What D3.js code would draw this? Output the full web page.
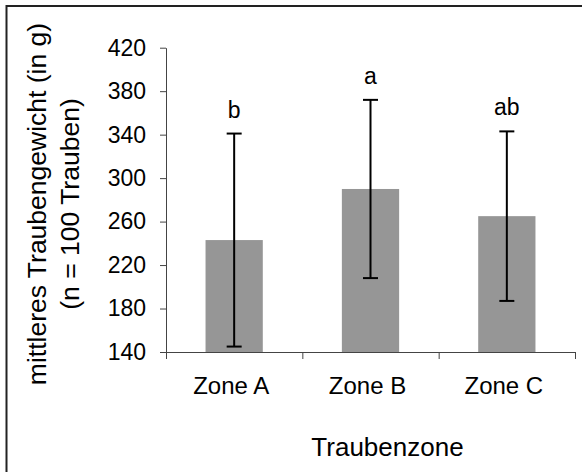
<!DOCTYPE html>
<html>
<head>
<meta charset="utf-8">
<script src="https://cdn.jsdelivr.net/npm/d3@7/dist/d3.min.js"></script>
<style>
  html, body { margin: 0; padding: 0; background: #fff; }
  svg { display: block; font-family: "Liberation Sans", Arial, sans-serif; }
</style>
</head>
<body>
<svg id="chart" width="582" height="472"></svg>
<script>
// Mean bunch weight per grape zone, with standard deviation and significance letters
const zones = ["Zone A", "Zone B", "Zone C"];
const meanWeight = [243, 290, 265];
const sdWeight = [98, 82, 78];
const sigLetters = ["b", "a", "ab"];
const yTicks = [140, 180, 220, 260, 300, 340, 380, 420];

const svg = d3.select("#chart");

// Outer chart frame (runs off the right and bottom edges)
svg.append("rect")
  .attr("x", 6.5).attr("y", 6)
  .attr("width", 600).attr("height", 500)
  .attr("fill", "none")
  .attr("stroke", "#222")
  .attr("stroke-width", 2);

const plot = { left: 166, right: 575, top: 47.7, bottom: 352 };

const y = d3.scaleLinear().domain([140, 420]).range([plot.bottom, plot.top]);
const x = d3.scaleBand().domain(zones)
  .range([plot.left, plot.right])
  .paddingInner(0.58).paddingOuter(0.29);
const xEdge = d3.scaleLinear().domain([0, zones.length]).range([plot.left, plot.right]);

// Bars
svg.append("g").selectAll("rect")
  .data(zones)
  .join("rect")
  .attr("x", d => x(d))
  .attr("width", x.bandwidth())
  .attr("y", (d, i) => y(meanWeight[i]))
  .attr("height", (d, i) => y(140) - y(meanWeight[i]))
  .attr("fill", "#969696");

// Y axis
const yAxis = svg.append("g")
  .attr("transform", `translate(${plot.left},0)`)
  .call(d3.axisLeft(y).tickValues(yTicks).tickSize(6).tickSizeOuter(0).tickPadding(14));
yAxis.select(".domain").attr("stroke", "#444");
yAxis.selectAll(".tick line").attr("stroke", "#444");
yAxis.selectAll(".tick text")
  .attr("font-size", 23).attr("fill", "#000")
  .attr("font-family", "Liberation Sans, Arial, sans-serif");

// X axis: line with ticks on the category boundaries
const xAxis = svg.append("g")
  .attr("transform", `translate(0,${plot.bottom})`)
  .call(d3.axisBottom(xEdge).tickValues(d3.range(zones.length + 1)).tickSize(7).tickSizeOuter(0).tickFormat(""));
xAxis.select(".domain").attr("stroke", "#444");
xAxis.selectAll(".tick line").attr("stroke", "#444");

// Category labels
const xLabels = svg.append("g")
  .attr("transform", `translate(0,${plot.bottom})`)
  .call(d3.axisBottom(x).tickSize(0).tickPadding(0));
xLabels.select(".domain").remove();
xLabels.selectAll(".tick text")
  .attr("y", 42).attr("dy", 0).attr("dx", -3)
  .attr("font-size", 24).attr("fill", "#000")
  .attr("font-family", "Liberation Sans, Arial, sans-serif");

// Error bars (mean ± SD)
const err = svg.append("g").attr("stroke", "#000").attr("stroke-width", 2);
const cap = 7.5;
zones.forEach((z, i) => {
  const cx = x(z) + x.bandwidth() / 2;
  const hi = y(meanWeight[i] + sdWeight[i]);
  const lo = y(meanWeight[i] - sdWeight[i]);
  err.append("line").attr("x1", cx).attr("x2", cx).attr("y1", hi).attr("y2", lo);
  err.append("line").attr("x1", cx - cap).attr("x2", cx + cap).attr("y1", hi).attr("y2", hi);
  err.append("line").attr("x1", cx - cap).attr("x2", cx + cap).attr("y1", lo).attr("y2", lo);
});

// Significance letters above the error bars
svg.append("g").selectAll("text")
  .data(zones)
  .join("text")
  .attr("x", d => x(d) + x.bandwidth() / 2)
  .attr("y", (d, i) => y(meanWeight[i] + sdWeight[i]) - 16)
  .attr("text-anchor", "middle")
  .attr("font-size", 23)
  .text((d, i) => sigLetters[i]);

// Axis titles
svg.append("text")
  .attr("x", 387.5).attr("y", 456)
  .attr("text-anchor", "middle")
  .attr("font-size", 26)
  .text("Traubenzone");

const yTitle = svg.append("text")
  .attr("transform", "translate(46,204) rotate(-90)")
  .attr("text-anchor", "middle")
  .attr("font-size", 26.5);
yTitle.append("tspan").attr("x", 0).attr("y", 0).text("mittleres Traubengewicht (in g)");
yTitle.append("tspan").attr("x", 0).attr("y", 33).text("(n = 100 Trauben)");
</script>
</body>
</html>
